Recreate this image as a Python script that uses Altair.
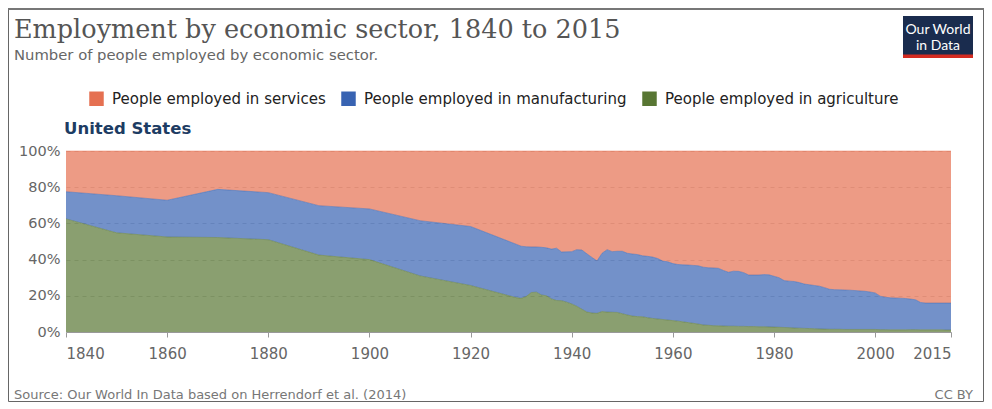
import altair as alt
import pandas as pd

years = [1840, 1850, 1860, 1870, 1880, 1890, 1900, 1910, 1920,
         1929, 1930, 1931, 1932, 1933, 1934, 1935, 1936, 1937, 1938, 1939,
         1940, 1941, 1942, 1943, 1944, 1945, 1946, 1947, 1948, 1949,
         1950, 1951, 1952, 1953, 1954, 1955, 1956, 1957, 1958, 1959,
         1960, 1961, 1962, 1963, 1964, 1965, 1966, 1967, 1968, 1969,
         1970, 1971, 1972, 1973, 1974, 1975, 1976, 1977, 1978, 1979,
         1980, 1981, 1982, 1983, 1984, 1985, 1986, 1987, 1988, 1989,
         1990, 1991, 1992, 1993, 1994, 1995, 1996, 1997, 1998, 1999,
         2000, 2001, 2002, 2003, 2004, 2005, 2006, 2007, 2008, 2009,
         2010, 2011, 2012, 2013, 2014, 2015]

agriculture = [62.5, 54.8, 52.5, 52.2, 51.0, 42.5, 40.0, 31.0, 25.7,
               19.0, 18.6, 19.6, 21.8, 22.0, 20.5, 20.0, 18.3, 17.4, 17.3, 16.5,
               15.5, 14.2, 12.6, 11.0, 10.5, 10.3, 11.3, 11.0, 10.9, 10.8,
               10.1, 9.4, 8.8, 8.5, 8.4, 7.9, 7.5, 7.2, 6.9, 6.6,
               6.3, 6.0, 5.6, 5.2, 4.8, 4.4, 3.9, 3.7, 3.5, 3.4,
               3.3, 3.2, 3.2, 3.1, 3.1, 3.0, 3.0, 2.9, 2.9, 2.8,
               2.7, 2.6, 2.5, 2.4, 2.2, 2.1, 2.0, 1.9, 1.8, 1.7,
               1.6, 1.5, 1.5, 1.5, 1.4, 1.4, 1.4, 1.4, 1.4, 1.4,
               1.4, 1.3, 1.3, 1.2, 1.2, 1.2, 1.2, 1.3, 1.3, 1.2,
               1.2, 1.2, 1.2, 1.2, 1.1, 1.1]

manufacturing = [15.0, 20.5, 20.3, 26.6, 26.0, 27.3, 28.0, 30.5, 32.6,
                 29.5, 28.8, 27.5, 25.2, 25.0, 26.3, 26.5, 27.5, 28.9, 26.9, 27.8,
                 28.9, 31.3, 32.7, 32.2, 30.7, 29.0, 32.2, 34.5, 33.5, 33.8,
                 34.5, 34.1, 34.3, 34.3, 33.7, 33.9, 33.9, 33.4, 32.3, 32.2,
                 31.5, 31.3, 31.5, 31.8, 32.0, 32.2, 31.9, 31.8, 31.9, 31.8,
                 30.7, 29.8, 30.4, 30.4, 29.7, 28.5, 28.5, 28.6, 28.8, 28.8,
                 28.1, 27.4, 25.9, 25.7, 25.7, 25.2, 24.5, 24.2, 23.9, 23.6,
                 22.9, 22.1, 21.9, 21.8, 21.8, 21.7, 21.5, 21.3, 21.1, 20.7,
                 20.2, 18.5, 17.9, 17.7, 17.6, 17.5, 17.3, 16.9, 16.5, 15.1,
                 14.8, 14.8, 14.8, 14.8, 14.9, 14.9]

services = [22.5, 24.7, 27.2, 21.2, 23.0, 30.2, 32.0, 38.5, 41.7,
            51.5, 52.6, 52.9, 53.0, 53.0, 53.2, 53.5, 54.2, 53.7, 55.8, 55.7,
            55.6, 54.5, 54.7, 56.8, 58.8, 60.7, 56.5, 54.5, 55.6, 55.4,
            55.4, 56.5, 56.9, 57.2, 57.9, 58.2, 58.6, 59.4, 60.8, 61.2,
            62.2, 62.7, 62.9, 63.0, 63.2, 63.4, 64.2, 64.5, 64.6, 64.8,
            66.0, 67.0, 66.4, 66.5, 67.2, 68.5, 68.5, 68.5, 68.3, 68.4,
            69.2, 70.0, 71.6, 71.9, 72.1, 72.7, 73.5, 73.9, 74.3, 74.7,
            75.5, 76.4, 76.6, 76.7, 76.8, 76.9, 77.1, 77.3, 77.5, 77.9,
            78.4, 80.2, 80.8, 81.1, 81.2, 81.3, 81.5, 81.8, 82.2, 83.7,
            84.0, 84.0, 84.0, 84.0, 84.0, 84.0]

sectors = ["People employed in services",
           "People employed in manufacturing",
           "People employed in agriculture"]
sector_colors = ["#e57051", "#3863b2", "#587633"]
stack_rank = [2, 1, 0]

x_ticks = [1840, 1860, 1880, 1900, 1920, 1940, 1960, 1980, 2000, 2015]
y_ticks = [0, 0.2, 0.4, 0.6, 0.8, 1.0]

rows = []
for name, values, rank in zip(sectors, [services, manufacturing, agriculture], stack_rank):
    for yr, v in zip(years, values):
        rows.append({"year": yr, "sector": name, "share": v, "rank": rank})
df = pd.DataFrame(rows)

W, H = 885, 181

areas = alt.Chart(df).mark_area(
    opacity=0.7, line={"strokeWidth": 0.8, "opacity": 0.55}
).encode(
    x=alt.X("year:Q",
            scale=alt.Scale(domain=[1840, 2015], nice=False, zero=False),
            axis=alt.Axis(values=x_ticks, format="d", title=None, labelFlush=True,
                          labelOverlap=False, grid=False, tickSize=5, tickColor="#999",
                          domainColor="#999", labelColor="#666", labelFontSize=15,
                          labelFont="DejaVu Sans", labelPadding=9)),
    y=alt.Y("share:Q", stack="normalize",
            scale=alt.Scale(domain=[0, 1], nice=False),
            axis=alt.Axis(values=y_ticks, format="%", title=None, grid=True,
                          gridDash=[4, 4], gridColor="#cfcfcf", domain=False, ticks=False,
                          labelColor="#666", labelFontSize=14.5, labelFont="DejaVu Sans",
                          labelPadding=6)),
    color=alt.Color("sector:N",
                    scale=alt.Scale(domain=sectors, range=sector_colors),
                    legend=alt.Legend(orient="none", legendX=23, legendY=-60,
                                      direction="horizontal", title=None,
                                      symbolType="square", symbolSize=210,
                                      symbolOpacity=1, symbolStrokeWidth=0,
                                      labelFontSize=15, labelFont="DejaVu Sans",
                                      labelColor="#222", labelOffset=8,
                                      columnPadding=15, labelLimit=400)),
    order=alt.Order("rank:Q", sort="ascending"),
)


def text_layer(txt, x, y, **kw):
    return alt.Chart(pd.DataFrame({"t": [txt]})).mark_text(**kw).encode(
        text="t:N", x=alt.value(x), y=alt.value(y))


title = text_layer("Employment by economic sector, 1840 to 2015", -52, -113,
                   align="left", baseline="alphabetic", font="DejaVu Serif",
                   fontSize=25.5, color="#555")
subtitle = text_layer("Number of people employed by economic sector.", -52, -91,
                      align="left", baseline="alphabetic", font="DejaVu Sans",
                      fontSize=14.8, color="#666")
country = text_layer("United States", -2, -17, align="left", baseline="alphabetic",
                     font="DejaVu Sans", fontSize=16.5, fontWeight="bold", color="#1d3c63")
source = text_layer("Source: Our World In Data based on Herrendorf et al. (2014)", -52, 248,
                    align="left", baseline="alphabetic", font="DejaVu Sans",
                    fontSize=13, color="#777")
license_txt = text_layer("CC BY", 907, 248, align="right", baseline="alphabetic",
                         font="DejaVu Sans", fontSize=13, color="#777")

dummy = pd.DataFrame({"k": [0]})
logo_box = alt.Chart(dummy).mark_rect(color="#1a2c4e").encode(
    x=alt.value(837), x2=alt.value(907), y=alt.value(-135), y2=alt.value(-93))
logo_bar = alt.Chart(dummy).mark_rect(color="#d42b21").encode(
    x=alt.value(837), x2=alt.value(907), y=alt.value(-96.5), y2=alt.value(-93))
logo_t1 = text_layer("Our World", 872, -117, align="center", baseline="alphabetic",
                     font="Lato", fontSize=14, color="white")
logo_t2 = text_layer("in Data", 872, -101, align="center", baseline="alphabetic",
                     font="Lato", fontSize=14, color="white")

frame = alt.Chart(dummy).mark_rect(fill="transparent", stroke="#666", strokeWidth=1).encode(
    x=alt.value(-57.5), x2=alt.value(917.5), y=alt.value(-142.5), y2=alt.value(250.5))
frame_top = alt.Chart(dummy).mark_rule(color="#777", strokeWidth=2).encode(
    x=alt.value(-58), x2=alt.value(918), y=alt.value(-142))

chart = alt.layer(
    areas, title, subtitle, country, source, license_txt,
    logo_box, logo_bar, logo_t1, logo_t2, frame, frame_top
).properties(
    width=W, height=H,
    autosize=alt.AutoSizeParams(type="none"),
    padding={"left": 58, "top": 143, "right": 33, "bottom": 70},
).configure_view(stroke=None).configure_axis(labelFontWeight="normal")

chart.save("out.html", embed_options={"renderer": "svg", "actions": False})
